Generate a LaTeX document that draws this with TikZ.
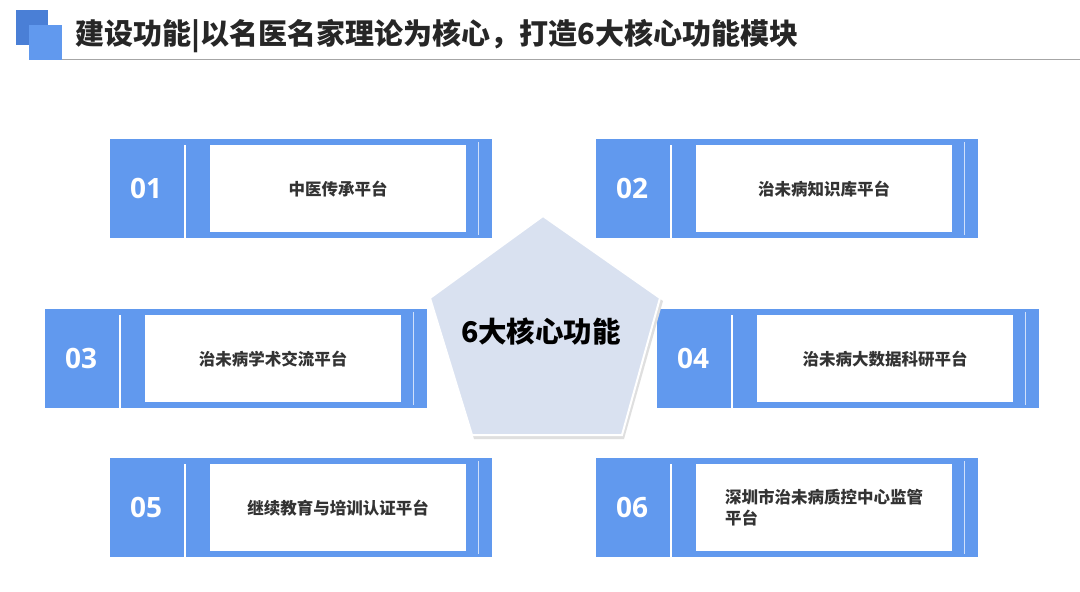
\documentclass[tikz,border=0pt]{standalone}
\usepackage{fontspec}
\setmainfont{Noto Sans CJK SC}
\newfontfamily\numf{Open Sans}
\definecolor{bl}{HTML}{6199EE}
\definecolor{dbl}{HTML}{4A7FD6}
\definecolor{pent}{HTML}{D9E1F0}
\tikzset{
 num/.style={font=\numf\bfseries\fontsize{28}{28}\selectfont,text=white,anchor=center},
 lbl/.style={font=\bfseries\fontsize{16.5}{21}\selectfont,text=black!80,align=left},
}
\newcommand{\funcbox}[5]{% x y num text name
 \fill[bl] (#1,#2) rectangle ++(382,99);
 \draw[white,line width=2] (#1+75,#2+6) -- (#1+75,#2+99);
 \draw[white!70!bl,line width=0.7] (#1+368,#2+3) -- (#1+368,#2+96);
 \node[num] (n#5) at (#1+36,#2+49) {#3};
 \fill[white] (#1+100,#2+6) rectangle (#1+356,#2+93);
 \node[lbl] (t#5) at (#1+228,#2+50) {#4};
}
\begin{document}
\begin{tikzpicture}[x=1pt,y=-1pt]
\useasboundingbox (0,0) rectangle (1080,592);
\fill[white] (0,0) rectangle (1080,592);
\fill[dbl] (16,10) rectangle (48,45);
\fill[bl] (29,25) rectangle (62,60);
\draw[gray!70,line width=1] (62,59) -- (1080,59);
\node[font=\bfseries\fontsize{29}{32}\selectfont,text=black!85,anchor=west] (title) at (72,36) {建设功能|以名医名家理论为核心，打造6大核心功能模块};
\funcbox{110}{139}{01}{中医传承平台}{a}
\funcbox{596}{139}{02}{治未病知识库平台}{b}
\funcbox{45}{309}{03}{治未病学术交流平台}{c}
\funcbox{657}{309}{04}{治未病大数据科研平台}{d}
\funcbox{110}{458}{05}{继续教育与培训认证平台}{e}
\funcbox{596}{458}{06}{深圳市治未病质控中心监管\\平台}{f}
\fill[gray!25] (545,219) -- (663,301) -- (624,439) -- (474,439) -- (433,301) -- cycle;
\filldraw[fill=pent,draw=white,line width=2] (543,216) -- (660,298) -- (622,435) -- (472,435) -- (430,298) -- cycle;
\node[font=\bfseries\fontsize{28.5}{30}\selectfont,text=black] (core) at (541,332) {6大核心功能};
\end{tikzpicture}
\end{document}
